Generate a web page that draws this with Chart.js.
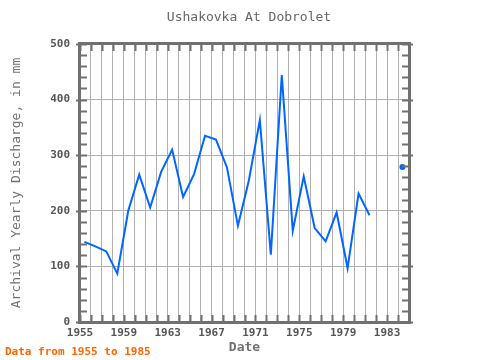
<!DOCTYPE html>
<html>
<head>
<meta charset="utf-8">
<script src="https://cdn.jsdelivr.net/npm/chart.js@4/dist/chart.umd.min.js"></script>
<style>
    html, body { margin: 0; padding: 0; background: #fff; }
    #wrap { width: 480px; height: 360px; }
</style>
</head>
<body>
<div id="wrap"><canvas id="discharge"></canvas></div>
<script>
// yearly values, sampled a bit after the start of each year
const years = [1955, 1956, 1957, 1958, 1959, 1960, 1961, 1962, 1963, 1964,
    1965, 1966, 1967, 1968, 1969, 1970, 1971, 1972, 1973, 1974,
    1975, 1976, 1977, 1978, 1979, 1980, 1981, 1982, 1983, 1984];
const discharge = [144, 136, 127, 87, 200, 265, 206, 270, 310, 225,
    266, 335, 328, 278, 173, 255, 363, 121, 444, 164,
    262, 169, 145, 197, 97, 231, 192, null, null, 279];
const yearOffset = 0.4;
const xLabels = [1955, 1959, 1963, 1967, 1971, 1975, 1979, 1983];
const yLabels = [0, 100, 200, 300, 400, 500];

const mono = "'DejaVu Sans Mono', 'Liberation Mono', monospace";
const axisGray = '#707070';

let points = years.map((yr, i) => ({ x: yr + yearOffset, y: discharge[i] }));

function isolated(i) {
    if (discharge[i] === null) return false;
    let before = i > 0 ? discharge[i - 1] : null;
    let after = i < discharge.length - 1 ? discharge[i + 1] : null;
    return before === null && after === null;
}

// border, inward ticks, title and footer
const frame = {
    id: 'frame',
    afterDraw(chart) {
        let ctx = chart.ctx;
        let a = chart.chartArea;
        let xs = chart.scales.x;
        let ys = chart.scales.y;
        ctx.save();
        ctx.strokeStyle = axisGray;
        ctx.lineWidth = 2;
        for (let yr = 1955; yr <= 1985; yr++) {
            let px = Math.round(xs.getPixelForValue(yr)) + 0.5;
            ctx.beginPath();
            ctx.moveTo(px, a.top); ctx.lineTo(px, a.top + 7);
            ctx.moveTo(px, a.bottom); ctx.lineTo(px, a.bottom - 7);
            ctx.stroke();
        }
        for (let v = 0; v <= 500; v += 20) {
            let py = Math.round(ys.getPixelForValue(v)) + 0.5;
            let out = v % 100 === 0 ? 4 : 0;
            ctx.beginPath();
            ctx.moveTo(a.left - out, py); ctx.lineTo(a.left + 7, py);
            ctx.moveTo(a.right + out, py); ctx.lineTo(a.right - 7, py);
            ctx.stroke();
        }
        ctx.lineWidth = 3;
        ctx.strokeRect(a.left - 0.5, a.top - 0.5, a.right - a.left + 1, a.bottom - a.top + 1);

        ctx.fillStyle = '#666';
        ctx.font = '13px ' + mono;
        ctx.textAlign = 'center';
        ctx.textBaseline = 'middle';
        ctx.fillText('Ushakovka At Dobrolet', 249, 18);

        ctx.fillStyle = '#ff6600';
        ctx.font = 'bold 11px ' + mono;
        ctx.textAlign = 'left';
        ctx.fillText('Data from 1955 to 1985', 5, 352);
        ctx.restore();
    }
};

new Chart(document.getElementById('discharge'), {
    type: 'line',
    data: {
        datasets: [{
            data: points,
            borderColor: '#0066ff',
            backgroundColor: '#0066ff',
            borderWidth: 2,
            tension: 0,
            spanGaps: false,
            pointRadius: c => isolated(c.dataIndex) ? 2 : 0,
            pointHoverRadius: 0
        }]
    },
    options: {
        responsive: true,
        maintainAspectRatio: false,
        animation: false,
        events: [],
        layout: { padding: { top: 44, right: 71, left: 0, bottom: 0 } },
        plugins: { legend: { display: false }, tooltip: { enabled: false } },
        scales: {
            x: {
                type: 'linear',
                min: 1955,
                max: 1985,
                afterFit: s => { s.height = 38; },
                afterBuildTicks: s => { s.ticks = years.concat([1985]).map(v => ({ value: v })); },
                border: { display: false },
                grid: { color: '#b0b0b0', lineWidth: 1, drawTicks: false },
                ticks: {
                    autoSkip: false,
                    maxRotation: 0,
                    padding: 5,
                    color: '#555',
                    font: { family: mono, size: 11, weight: 'bold' },
                    callback: v => xLabels.includes(v) ? String(v) : ''
                },
                title: {
                    display: true,
                    text: 'Date',
                    color: axisGray,
                    padding: { top: 0, bottom: 5 },
                    font: { family: mono, size: 13, weight: 'bold' }
                }
            },
            y: {
                min: 0,
                max: 500,
                afterFit: s => { s.width = 80; },
                afterBuildTicks: s => { s.ticks = yLabels.map(v => ({ value: v })); },
                border: { display: false },
                grid: { color: '#b0b0b0', lineWidth: 1, drawTicks: false },
                ticks: {
                    padding: 10,
                    color: '#555',
                    font: { family: mono, size: 11, weight: 'bold' }
                },
                title: {
                    display: true,
                    text: 'Archival Yearly Discharge, in mm',
                    color: axisGray,
                    padding: { top: 9, bottom: 0 },
                    font: { family: mono, size: 13 }
                }
            }
        }
    },
    plugins: [frame]
});
</script>
</body>
</html>
